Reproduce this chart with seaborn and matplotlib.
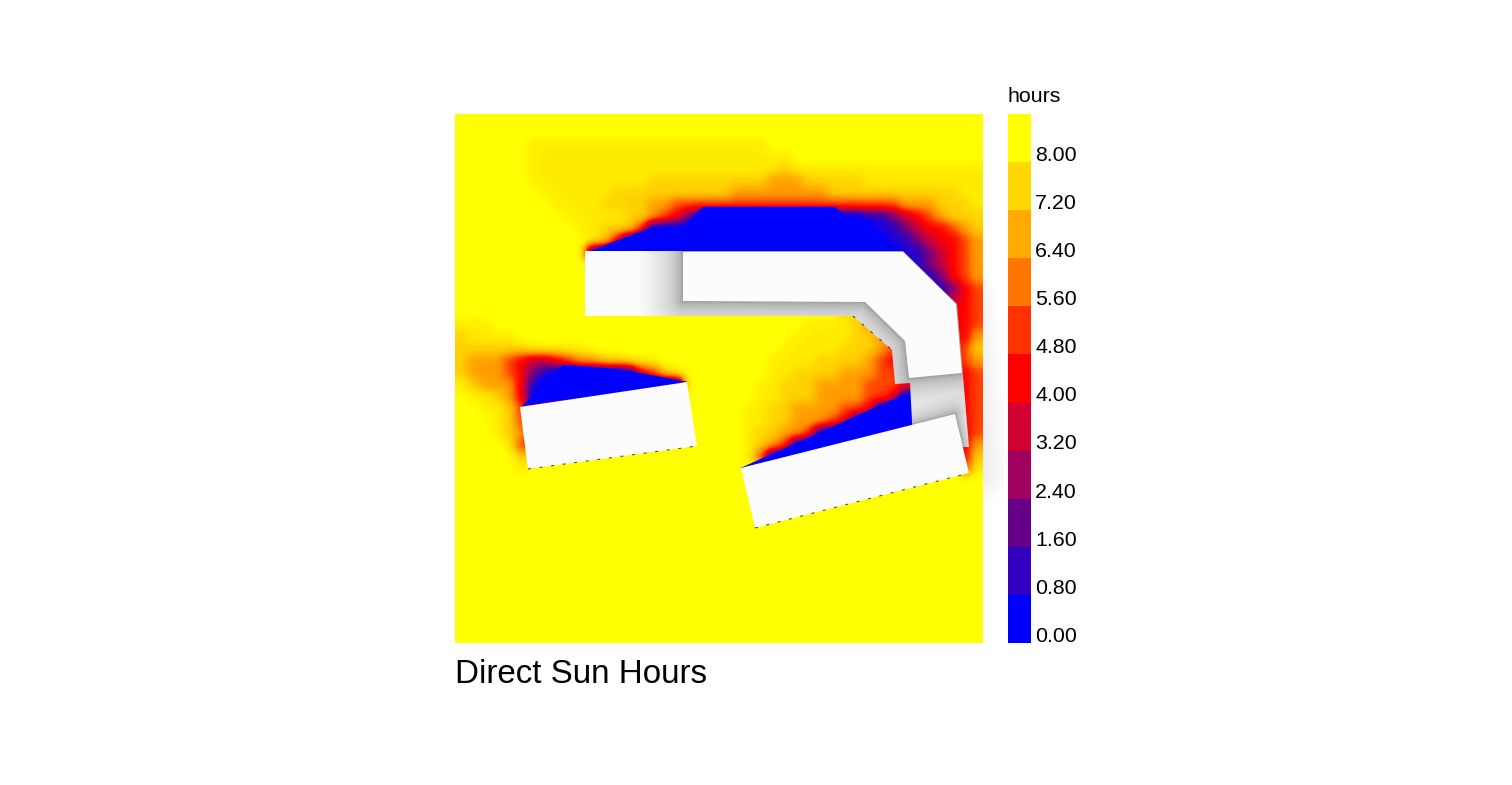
import numpy as np
import pandas as pd
import matplotlib
matplotlib.use("Agg")
import matplotlib.pyplot as plt
from matplotlib.colors import LinearSegmentedColormap
from matplotlib.patches import Polygon
import seaborn as sns

# ---------- values ----------
band_colors = ["#0000FF", "#3300BF", "#660088", "#A00060", "#D00030", "#FF0000",
               "#FF3300", "#FF7700", "#FFAA00", "#FFD700", "#FFFF00"]
band_hours = [8.4, 7.6, 6.8, 6.0, 5.2, 4.4, 3.6, 2.8, 2.0, 1.2, 0.4]
tick_labels = ["8.00", "7.20", "6.40", "5.60", "4.80", "4.00", "3.20", "2.40", "1.60", "0.80", "0.00"]
legend_title = "hours"
chart_title = "Direct Sun Hours"

# hours that each reading class in sun_classes stands for
class_hours = [0.0, 1.0, 2.2, 3.4, 4.4, 5.4, 6.6, 7.5, 8.0, 8.4]

# reading class per 12-unit site cell (9 = full sun)
sun_classes = [
    [9]*44,
    [9]*44,
    [9]*6+[8]*20+[9]*18,
    [9]*6+[8]*22+[9]*16,
    [9]*6+[8]*21+[7]+[8]*16,
    [9]*6+[8]*10+[7]*10+[6]*3+[7]*5+[8]*10,
    [9]*7+[8]*6+[7]*10+[6]*8+[7]*11+[8]*2,
    [9]*8+[8]*4+[7]*4+[6]*2+[5]+[5]*18+[6]+[6]*2+[7]*3+[8],
    [9]*9+[8]*5+[7]*2+[6,5,4,2]+[0]*14+[1,1,2,3,4,5,6,7,7,7],
    [9]*10+[8]*2+[7]*3+[5]+[0]*19+[1,1,2,3,4,4,5,6,7],
    [9]*11+[8,7,4]+[0]*22+[1,1,2,3,4,4,5,6],
    [9]*11+[0]*26+[1,1,2,3,4,5,6],
    [9]*35+[1]*4+[2,3,4,5,6],
    [9]*36+[1]*4+[2,4,5,6],
    [9]*38+[1,1,1,2,4,5],
    [9]*39+[2,2,3,4,5],
    [9]*32+[7]*4+[9]*5+[4,4,5],
    [8,8,8]+[9]*26+[8]*4+[7,6]+[6]*6+[4,4,5],
    [7,8,8,8,8]+[9]*23+[8]*5+[7]*2+[6]*6+[4,4,6],
    [7,7,7,7,7,7]+[8]*5+[9]*16+[8]*5+[7]*3+[6]+[5]*5+[4,5,7],
    [7,6,6,6,5,4,3,3,4,5,6,6,7,7,8,8,8]+[9]*9+[8]*4+[7]*4+[6,5,4]+[5]*4+[4,5,6],
    [7,6,6,6,5,4,2,1]+[0]*7+[4,5,7,8]+[9]*7+[8]*2+[7]*4+[6]*2+[6,5,5]+[4]*4+[4,4,5],
    [8,7,6,6,6,4,1]+[0]*12+[9]*6+[8]*2+[7]*3+[6]*3+[6,5,5,5]+[4]*4+[4,4,5],
    [9,8,8,7,6,4]+[0]*12+[9]*7+[8]*2+[7]*3+[6]*3+[6,5]+[5,4]+[0]*2+[4]*2+[4,4,5],
    [9,9,8,8,7,5,4]+[9]*17+[8]*2+[7]*2+[6]*3+[6,5]+[5,4]+[0]*4+[4]*2+[4,4,5],
    [9,9,9,8,7,5,4]+[9]*17+[8]*2+[7]*2+[6]*2+[6,5,4]+[0]*6+[4]*3+[4,5],
    [9,9,9,8,7,6,4]+[9]*17+[8,7,7,6,6,5]+[0]*9+[4]*3+[4,5],
    [9,9,9,9,8,5,4]+[9]*17+[8,7,6,5]+[0]*11+[4]*3+[4,6],
    [9,9,9,9,9,7,7]+[9]*17+[8,5]+[0]*13+[4]*3+[4,7],
    [9]*5+[8]+[9]*33+[9]*3+[5,8],
] + [[9]*44 for _ in range(14)]

# building outlines, in picture coordinates of the site plan
podium_outline = [(585,251),(903,251),(957,304),(969,447),(958,447),(955,430),(913,440),
                  (910,383),(895,384),(892,350),(853,316),(585,316)]
tower_outline = [(683,252),(903,252),(956,304),(962,373),(909,378),(905,341),(865,302),(683,301)]
west_block = [(520,407),(687,382),(697,446),(528,469)]
south_block = [(741,468),(955,414),(969,473),(755,528)]
shade_north = [(588,252),(650,228),(683,227),(703,207),(835,207),(860,230),(882,252)]
shade_west = [(522,406),(563,365),(617,369),(687,382)]
shade_south = [(741,468),(912,391),(914,424)]
east_wall = [(957,300),(969,470)]
sunless_edges = [[(528,469),(697,446)], [(755,528),(969,473)], [(853,316),(892,350)]]

# ---------- layout ----------
W, H = 1512, 785
X0, Y0, SIDE = 455, 114, 529
sns.set_style("white")
plt.rcParams["font.family"] = ["Liberation Sans", "DejaVu Sans"]

fig = plt.figure(figsize=(W/100, H/100), dpi=100, facecolor="white")
ax = fig.add_axes([X0/W, 1-(Y0+SIDE)/H, 528/W, SIDE/H])
cax = fig.add_axes([1008/W, 1-(Y0+SIDE)/H, 23/W, SIDE/H])

cmap = LinearSegmentedColormap.from_list("sun", band_colors, N=81)
VMIN, VMAX = 0.4, 8.4
grid = pd.DataFrame(np.take(class_hours, np.array(sun_classes)))


def cells(points):
    pts = np.asarray(points, dtype=float)
    return np.column_stack([(pts[:, 0]-X0)/(528/44), (pts[:, 1]-Y0)/(SIDE/44)])


sns.heatmap(grid, ax=ax, cmap=cmap, vmin=VMIN, vmax=VMAX, cbar=False,
            xticklabels=False, yticklabels=False, square=False)
ax.imshow(grid.values, cmap=cmap, vmin=VMIN, vmax=VMAX, extent=(0, 44, 44, 0),
          interpolation="gaussian", aspect="auto", zorder=2)

PX = 0.72  # points per picture pixel

# soft shade that spills beyond the plan on the east side
wall = cells(east_wall)
for i in range(1, 15):
    ax.plot(wall[:, 0], wall[:, 1], color="black", alpha=0.007, clip_on=False, zorder=0.5,
            lw=2*40*(i/14)*PX, solid_capstyle="round")

for shade in (shade_north, shade_west, shade_south):
    ax.add_patch(Polygon(cells(shade), closed=True, fc="#0000FF", ec="#0000FF", lw=0.3, zorder=3))

ROOF = "#FCFCFC"
podium = Polygon(cells(podium_outline), closed=True, fc=ROOF, ec="none", zorder=4)
ax.add_patch(podium)

# contact shade inside the podium
n = 40
for outline, reach in ((tower_outline, 44), (south_block, 20)):
    pts = cells(outline + outline[:1])
    for i in range(1, n+1):
        half = reach*(i/n)**3
        line, = ax.plot(pts[:, 0], pts[:, 1], color="black", alpha=0.011, zorder=5,
                        lw=2*half*PX, solid_joinstyle="round")
        line.set_clip_path(podium)

ax.add_patch(Polygon(cells(tower_outline), closed=True, fc=ROOF, ec="none", zorder=6))
ax.add_patch(Polygon(cells(west_block), closed=True, fc=ROOF, ec="none", zorder=6))
ax.add_patch(Polygon(cells(south_block), closed=True, fc=ROOF, ec="none", zorder=6))

for edge in sunless_edges:
    pts = cells(edge)
    ax.plot(pts[:, 0], pts[:, 1], color="#30306A", lw=0.7, ls=(0, (3, 9)), zorder=7)

ax.set_xlim(0, 44)
ax.set_ylim(44, 0)
ax.axis("off")

# ---------- legend ----------
legend = pd.DataFrame({"hours": band_hours}, index=tick_labels)
sns.heatmap(legend, ax=cax, cmap=cmap, vmin=VMIN, vmax=VMAX, cbar=False,
            xticklabels=False, yticklabels=False)
cax.yaxis.tick_right()
cax.set_yticks(np.arange(len(tick_labels)) + 0.82)
cax.set_yticklabels(tick_labels, rotation=0, fontsize=15.4, color="black")
cax.tick_params(axis="y", length=0, pad=3, right=False, left=False)
for s in cax.spines.values():
    s.set_visible(False)
cax.set_ylabel("")
cax.set_xlabel("")

fig.text(1007.5/W, 1-102/H, legend_title, fontsize=15.4, color="black", va="baseline", ha="left")
fig.text(455/W, 1-683/H, chart_title, fontsize=23.9, color="black", va="baseline", ha="left")

fig.savefig("out.png", dpi=100, facecolor="white")
